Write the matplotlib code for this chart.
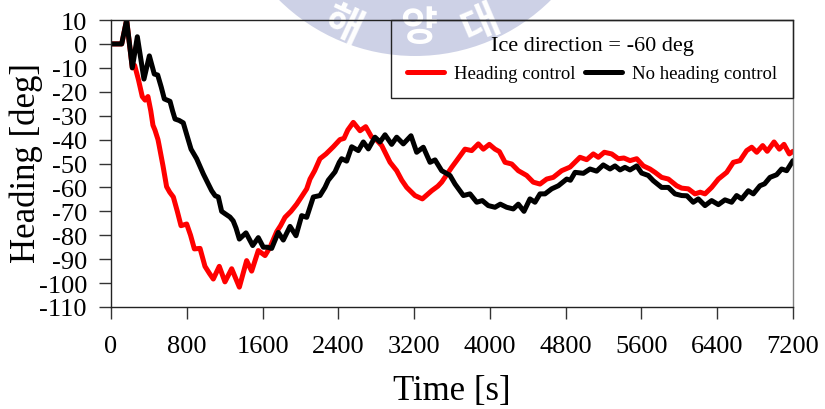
import matplotlib
matplotlib.use("Agg")
import matplotlib.pyplot as plt
from matplotlib.patches import Ellipse

plt.rcParams['font.family'] = ['Liberation Serif', 'DejaVu Serif']
plt.rcParams['axes.unicode_minus'] = False

# Heading time histories [s, deg]
t_ctrl = [0, 113, 165, 225, 250, 290, 330, 360, 390, 420, 443, 464, 496, 506, 549, 587,
          620, 658, 700, 739, 799, 840, 880, 940, 992, 1040, 1080, 1143, 1203, 1274,
          1355, 1432, 1485, 1555, 1626, 1679, 1749, 1790, 1837, 1900, 1960, 2010, 2066,
          2101, 2150, 2206, 2270, 2347, 2417, 2460, 2500, 2558, 2629, 2689, 2752, 2800,
          2858, 2946, 3016, 3070, 3122, 3209, 3287, 3385, 3450, 3491, 3597, 3649, 3737,
          3808, 3878, 3931, 3994, 4054, 4100, 4160, 4230, 4300, 4388, 4458, 4529, 4600,
          4669, 4758, 4846, 4951, 5022, 5092, 5145, 5208, 5286, 5356, 5415, 5479, 5550,
          5620, 5690, 5743, 5813, 5884, 5972, 6025, 6095, 6165, 6220, 6271, 6341, 6412,
          6500, 6570, 6640, 6711, 6764, 6817, 6880, 6928, 7000, 7056, 7105, 7161, 7200]
hdg_ctrl = [0, 0, 10, -10, -9, -15, -22, -23.5, -22, -28, -34, -36, -40, -42, -51, -59.7,
            -62, -64, -70, -76, -75.3, -80, -85.7, -85.5, -93, -96, -98.3, -93, -99.5, -94,
            -101.7, -90.6, -95, -86.4, -88.5, -85, -78.5, -76, -72.5, -70, -67, -64, -60.6,
            -56.5, -53, -48, -46, -43, -40, -39.5, -36, -32.8, -36.3, -34.6, -39, -40,
            -42.5, -49.5, -53, -57, -60, -63.4, -64.8, -61.4, -59.5, -57.8, -51.6, -48.8, -44,
            -44.6, -41.8, -44, -42, -44, -45, -49.5, -50.2, -53, -55, -57.8, -58.6, -56.5,
            -55.8, -53, -51.5, -47.4, -48.4, -46, -47.4, -45.3, -46, -48, -47.7, -48.8, -48,
            -51, -52.3, -53.7, -55.8, -56.5, -59.3, -60.3, -60.6, -62.7, -62, -62.7, -60, -56.5,
            -53.7, -49.5, -48.8, -44.6, -43.2, -45.3, -42.5, -44.9, -41, -44, -42, -46, -44.9]

t_free = [0, 113, 165, 225, 278, 348, 405, 457, 493, 530, 563, 623, 650, 676, 720, 763,
          800, 845, 904, 975, 1020, 1063, 1100, 1133, 1168, 1204, 1256, 1290, 1320, 1355,
          1425, 1496, 1555, 1608, 1650, 1696, 1766, 1819, 1890, 1953, 2013, 2066, 2136,
          2206, 2259, 2294, 2365, 2410, 2435, 2488, 2541, 2611, 2664, 2717, 2787, 2840,
          2893, 2963, 3016, 3086, 3167, 3227, 3297, 3368, 3421, 3491, 3579, 3632, 3720,
          3790, 3861, 3920, 3983, 4054, 4110, 4177, 4247, 4300, 4360, 4423, 4476, 4529,
          4582, 4652, 4723, 4811, 4850, 4899, 4987, 5057, 5127, 5197, 5268, 5321, 5374,
          5426, 5479, 5550, 5602, 5672, 5725, 5813, 5884, 5954, 6025, 6080, 6147, 6200,
          6271, 6341, 6412, 6482, 6552, 6605, 6658, 6728, 6781, 6851, 6900, 6957, 7027,
          7080, 7133, 7200]
hdg_free = [0, 0, 10, -10, 3, -14.7, -5, -12.6, -13, -18, -23, -24, -28, -31.4, -32, -33,
            -38, -44, -48, -54.4, -58, -61.4, -63.5, -64, -70, -71, -72.4, -74, -77, -81.6,
            -79, -84.3, -81, -85, -85, -85.5, -78.8, -82, -76.3, -80.2, -71.8, -72.5, -64,
            -63.4, -60, -57, -53.5, -49.5, -48, -49, -43, -44.6, -41, -43.9, -39, -41,
            -38, -42, -39, -41.8, -38.4, -45.3, -43.2, -49.5, -48.5, -53, -55, -58.6, -63.4,
            -62.7, -66.2, -65.5, -67.6, -68.3, -67, -68.3, -69, -67, -70, -64.8, -66.2, -62.7,
            -62.7, -60.6, -59.3, -56.5, -57, -53.7, -54.1, -52.3, -53.2, -50.6, -52.3, -51, -52.7,
            -51.6, -52.7, -51, -54, -55, -57.2, -60, -60, -62.7, -63.4, -63.5, -66.2, -64.8,
            -67.6, -65.5, -67.2, -65.2, -66.2, -63.4, -64.8, -61.4, -62.7, -59.3, -58.5, -55.8, -54.7,
            -52.3, -53, -48.8]

x_ticks = list(range(0, 7201, 800))
y_ticks = list(range(-110, 11, 10))

W, H = 825, 410
fig = plt.figure(figsize=(W / 100, H / 100), dpi=100)

# pale seal stamp behind the chart
seal_cx, seal_cy, seal_r = 415, -136, 193
fig.add_artist(Ellipse((seal_cx / W, 1 - seal_cy / H), 2 * seal_r / W, 2 * seal_r / H,
                       transform=fig.transFigure, facecolor='#cdd1e6',
                       edgecolor='none', zorder=-2))
for ch, px, py, rot in [("해", 343, 26, -25), ("양", 419, 29, 0), ("대", 480, 25, 23)]:
    fig.text(px / W, 1 - py / H, ch, rotation=rot, rotation_mode='anchor',
             ha='center', va='center', fontsize=29, color='white', weight='bold',
             family=['Noto Sans CJK KR'], zorder=-1)

ax = fig.add_axes([111 / W, 1 - 308 / H, 682 / W, 287 / H])
ax.set_facecolor('none')

ax.plot(t_ctrl, hdg_ctrl, color='#ff0000', lw=3.6, solid_joinstyle='round',
        solid_capstyle='round', label='Heading control')
ax.plot(t_free, hdg_free, color='black', lw=3.6, solid_joinstyle='round',
        solid_capstyle='round', label='No heading control')

ax.set_xlim(0, 7200)
ax.set_ylim(-110, 10)
ax.set_xticks(x_ticks)
ax.set_yticks(y_ticks)
ax.tick_params(axis='both', direction='out', length=8.4, width=1.0,
               color='#333333', labelsize=19)
ax.tick_params(axis='y', pad=8.9)
ax.tick_params(axis='x', pad=12)

for side in ['left', 'bottom', 'top']:
    ax.spines[side].set_color('#222222')
    ax.spines[side].set_linewidth(1.0)
ax.spines['right'].set_color('#808080')
ax.spines['right'].set_linewidth(1.0)

fig.text(26 / W, 1 - 163 / H, 'Heading [deg]', rotation=90, ha='center', va='center',
         fontsize=25)
fig.text(452 / W, 1 - 392 / H, 'Time [s]', ha='center', va='center', fontsize=25)

leg = ax.legend(loc='upper right', bbox_to_anchor=(1, 1), borderaxespad=0, ncol=2,
                title='Ice direction = -60 deg', title_fontsize=16, fontsize=13.5,
                handlelength=1.97, handletextpad=0.53, columnspacing=0.5,
                borderpad=0.85, labelspacing=0.55, fancybox=False, framealpha=1,
                facecolor='none', edgecolor='#222222')
leg.get_frame().set_linewidth(1.0)

fig.savefig('out.png', dpi=100)
